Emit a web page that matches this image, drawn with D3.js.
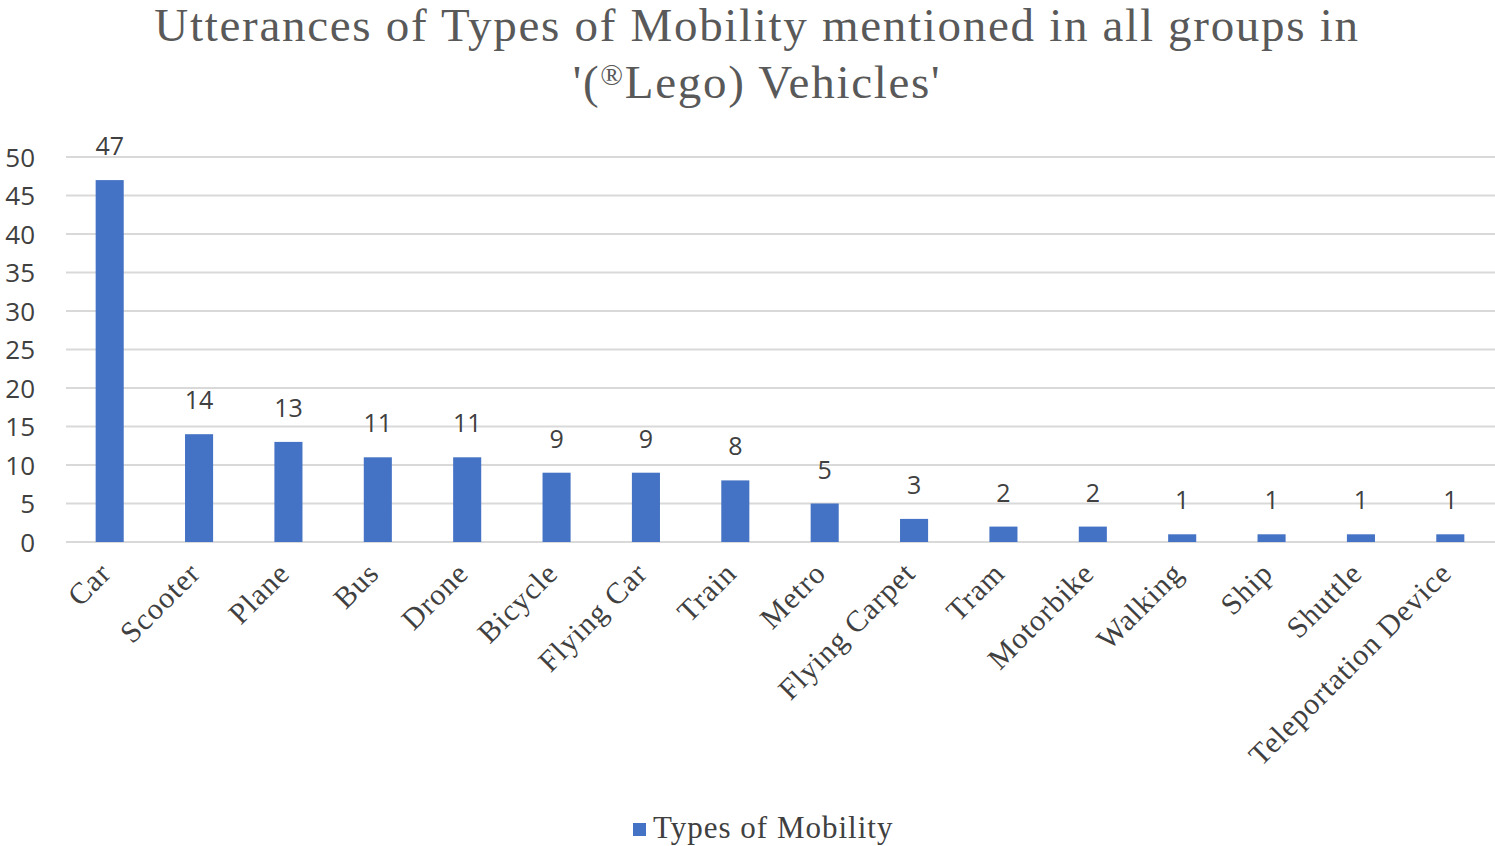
<!DOCTYPE html>
<html><head><meta charset="utf-8">
<script src="https://cdn.jsdelivr.net/npm/d3@7"></script>
<style>body{margin:0;background:#fff}</style>
</head><body>
<svg id="chart" width="1495" height="846"></svg>
<script>
const categories = ["Car","Scooter","Plane","Bus","Drone","Bicycle","Flying Car","Train","Metro","Flying Carpet","Tram","Motorbike","Walking","Ship","Shuttle","Teleportation Device"];
const values = [47,14,13,11,11,9,9,8,5,3,2,2,1,1,1,1];
const yTicks = [0,5,10,15,20,25,30,35,40,45,50];
const titleLines = ["Utterances of Types of Mobility mentioned in all groups in","'(®Lego) Vehicles'"];
const seriesName = "Types of Mobility";

const svg = d3.select("#chart");
const serif = "'Liberation Serif','Times New Roman',serif";
const sans = "'Open Sans','Noto Sans',sans-serif";

const x = d3.scaleBand().domain(categories).range([65, 1495]).paddingInner(0.686).paddingOuter(0.343);
const y = d3.scaleLinear().domain([0, 50]).range([542, 157]);

// gridlines
svg.append("g").selectAll("line").data(yTicks).join("line")
  .attr("x1", 66).attr("x2", 1495)
  .attr("y1", d => y(d)).attr("y2", d => y(d))
  .attr("stroke", "#d9d9d9").attr("stroke-width", 2);

// y axis labels
const yAxis = d3.axisLeft(y).tickValues(yTicks).tickSize(0).tickPadding(0);
const ya = svg.append("g").attr("transform", "translate(35,0)").call(yAxis);
ya.select(".domain").remove();
ya.selectAll("text").attr("font-family", sans).attr("font-size", 26).attr("fill", "#404040").attr("dy", "0.35em");

// bars
svg.append("g").selectAll("rect").data(values).join("rect")
  .attr("x", (d, i) => x(categories[i]))
  .attr("width", x.bandwidth())
  .attr("y", d => y(d))
  .attr("height", d => y(0) - y(d))
  .attr("fill", "#4472c4");

// value labels
svg.append("g").selectAll("text").data(values).join("text")
  .attr("x", (d, i) => x(categories[i]) + x.bandwidth() / 2)
  .attr("y", d => y(d) - 25)
  .attr("text-anchor", "middle")
  .attr("font-family", sans).attr("font-size", 25).attr("fill", "#404040")
  .text(d => d);

// x axis labels
const xAxis = d3.axisBottom(x).tickSize(0).tickPadding(0);
const xa = svg.append("g").attr("transform", "translate(0,542)").call(xAxis);
xa.select(".domain").remove();
xa.selectAll("text")
  .attr("font-family", serif).attr("font-size", 30).attr("fill", "#404040")
  .attr("letter-spacing", 1)
  .attr("text-anchor", "end")
  .attr("dy", null).attr("y", 0)
  .attr("transform", "translate(3,33) rotate(-45)");

// title (® drawn as a small superscript)
const t = svg.append("g");
titleLines.forEach((s, i) => {
  const el = t.append("text").attr("x", 757).attr("y", 41 + i * 57)
    .attr("text-anchor", "middle").attr("font-family", serif)
    .attr("font-size", 47).attr("letter-spacing", 1.7).attr("fill", "#595959");
  s.split(/(®)/).forEach(part => {
    if (!part) return;
    const sp = el.append("tspan").text(part);
    if (part === "®") sp.attr("font-size", 30).attr("baseline-shift", "45%");
  });
});

// legend
svg.append("rect").attr("x", 633).attr("y", 823).attr("width", 13).attr("height", 13).attr("fill", "#4472c4");
svg.append("text").attr("x", 653).attr("y", 838).attr("font-family", serif).attr("font-size", 31)
  .attr("letter-spacing", 1).attr("fill", "#404040").text(seriesName);
</script>
</body></html>
